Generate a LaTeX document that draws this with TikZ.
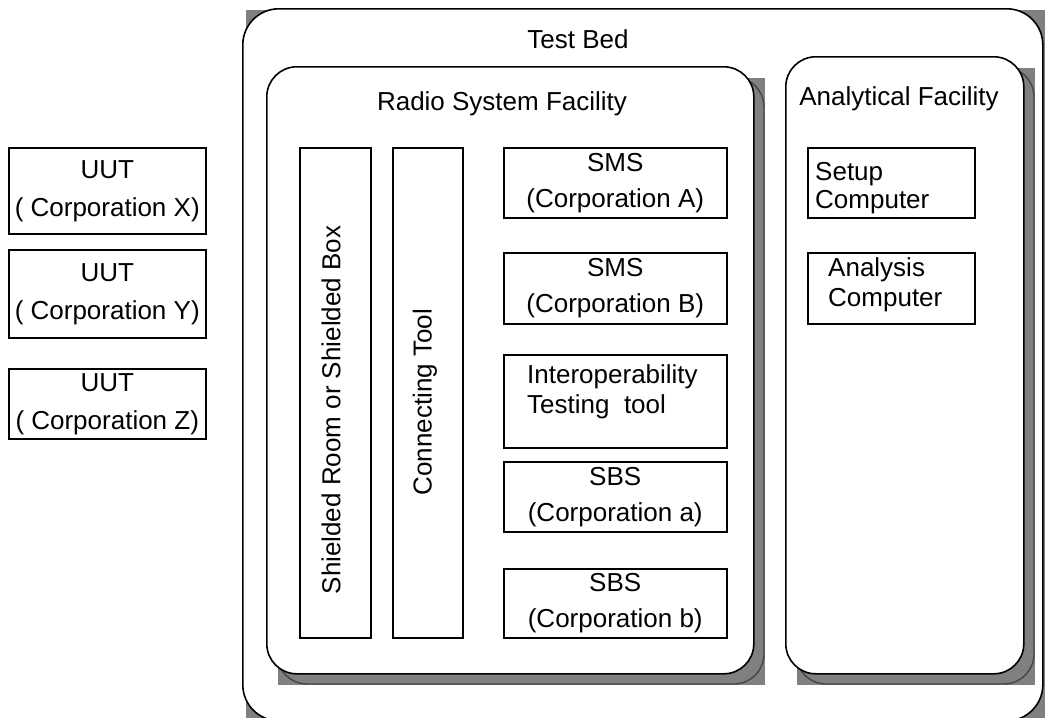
\documentclass[tikz,border=0pt]{standalone}
\usepackage{fontspec}
\setmainfont{Liberation Sans}
\usetikzlibrary{positioning}
\tikzset{facility/.style = {draw, line width=1.6, fill=white, rounded corners=30, inner sep=0, anchor=north west}}
\tikzset{unit/.style = {draw, line width=1.5, fill=white, inner sep=0, anchor=north west, align=center}}
\tikzset{uut/.style = {unit, font=\fontsize{26}{38}\selectfont}}
\tikzset{caption/.style = {inner sep=0, align=left, anchor=north west}}
\definecolor{sgray}{rgb}{0.5, 0.5, 0.5}
\definecolor{sline}{rgb}{0.27, 0.27, 0.27}
% gray cast shadow behind a facility box (x1,y1,x2,y2 of the box)
\newcommand{\castshadow}[4]{%
  \begin{scope}
    \clip ({#1+12},{#2+12}) rectangle ({#3+12},{#4+12});
    \fill[sgray] ({#1+12},{#2+12}) rectangle ({#3+12},{#4+12});
    \draw[sline, line width=1.4, rounded corners=30] ({#1+11},{#2+11}) rectangle ({#3+11},{#4+11});
  \end{scope}}

\begin{document}
\begin{tikzpicture}[x=1pt, y=-1pt, font=\fontsize{26}{36}\selectfont]
    \useasboundingbox (0,0) rectangle (1045,718);

    % units under test
    \node (uutx) [uut, minimum width=197, minimum height=86] at (8,147) {UUT\\( Corporation X)};
    \node (uuty) [uut, minimum width=197, minimum height=88] at (8,249) {UUT\\( Corporation Y)};
    \node (uutz) [uut, minimum width=197, minimum height=70] at (8,368) {UUT\\( Corporation Z)};

    % test bed
    \fill[sgray] (246,10) rectangle (1050,726);
    \node (testbed) [facility, rounded corners=36, minimum width=800, minimum height=712] at (242,8) {};
    \node (testbed title) [anchor=base] at (578,48) {Test Bed};

    % radio system facility
    \castshadow{266}{66}{753}{673}
    \node (radio) [facility, minimum width=487, minimum height=607] at (266,66) {};
    \node (radio title) [anchor=base] at (502,110) {Radio System Facility};

    \node (shieldroom) [unit, minimum width=71, minimum height=490] at (299,147) {};
    \node (shieldroom text) [rotate=90, inner sep=0] at (331,410) {Shielded Room or Shielded Box};
    \node (conntool) [unit, minimum width=70, minimum height=490] at (392,147) {};
    \node (conntool text) [rotate=90, inner sep=0] at (425,402) {Connecting Tool};

    \node (smsa) [unit, minimum width=223, minimum height=70] at (503,147) {SMS\\(Corporation A)};
    \node (smsb) [unit, minimum width=223, minimum height=71] at (503,252) {SMS\\(Corporation B)};
    \node (iotool) [unit, minimum width=223, minimum height=93] at (503,354) {};
    \node (iotool text) [caption, font=\fontsize{26}{30}\selectfont] at (527,364) {Interoperability\\Testing~~tool};
    \node (sbsa) [unit, minimum width=223, minimum height=70] at (503,461) {SBS\\(Corporation a)};
    \node (sbsb) [unit, minimum width=223, minimum height=69] at (503,568) {SBS\\(Corporation b)};

    % analytical facility
    \castshadow{785}{56}{1023}{673}
    \node (analytic) [facility, minimum width=238, minimum height=617] at (785,56) {};
    \node (analytic title) [anchor=base] at (899,105) {Analytical Facility};

    \node (setuppc) [unit, minimum width=167, minimum height=70] at (807,147) {};
    \node (setuppc text) [caption, font=\fontsize{26}{28}\selectfont] at (815,162) {Setup\\Computer};
    \node (analysispc) [unit, minimum width=167, minimum height=71] at (807,252) {};
    \node (analysispc text) [caption, font=\fontsize{26}{30}\selectfont] at (828,257) {Analysis\\Computer};

  \end{tikzpicture}
\end{document}
